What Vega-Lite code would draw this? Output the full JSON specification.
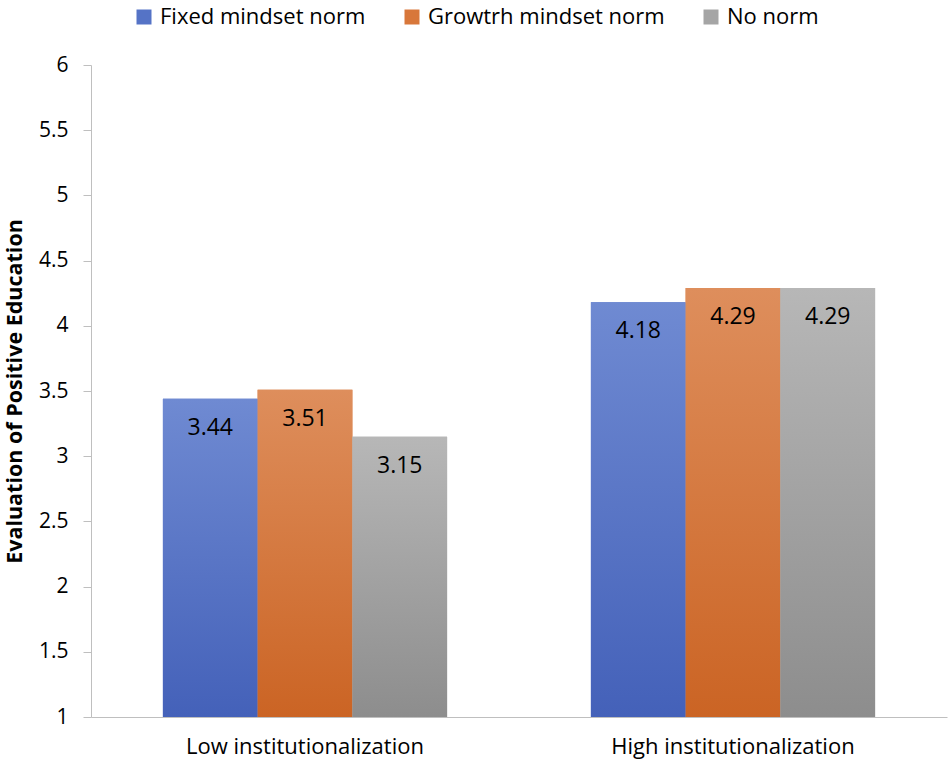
{
  "$schema": "https://vega.github.io/schema/vega-lite/v6.json",
  "autosize": "none",
  "width": 856,
  "height": 652,
  "padding": {"left": 91, "top": 65, "right": 3, "bottom": 49},
  "background": "white",
  "data": {
    "values": [
      {"group": "Low institutionalization", "norm": "Fixed mindset norm", "value": 3.44},
      {"group": "Low institutionalization", "norm": "Growtrh mindset norm", "value": 3.51},
      {"group": "Low institutionalization", "norm": "No norm", "value": 3.15},
      {"group": "High institutionalization", "norm": "Fixed mindset norm", "value": 4.18},
      {"group": "High institutionalization", "norm": "Growtrh mindset norm", "value": 4.29},
      {"group": "High institutionalization", "norm": "No norm", "value": 4.29}
    ]
  },
  "config": {
    "view": {"stroke": null},
    "font": "Open Sans",
    "axis": {"labelFont": "Open Sans", "titleFont": "Open Sans", "domainColor": "#bfbfbf", "tickColor": "#bfbfbf", "grid": false},
    "legend": {"labelFont": "Open Sans"}
  },
  "encoding": {
    "x": {
      "field": "group",
      "type": "nominal",
      "sort": ["Low institutionalization", "High institutionalization"],
      "scale": {"paddingInner": 0.336, "paddingOuter": 0.168},
      "axis": {"title": null, "labelAngle": 0, "ticks": false, "labelFontSize": 22, "labelColor": "#000", "labelPadding": 19, "labelLimit": 500}
    },
    "xOffset": {
      "field": "norm",
      "type": "nominal",
      "sort": ["Fixed mindset norm", "Growtrh mindset norm", "No norm"]
    },
    "y": {
      "field": "value",
      "type": "quantitative",
      "scale": {"domain": [1, 6], "nice": false, "zero": false},
      "axis": {
        "title": "Evaluation of Positive Education",
        "titleFontSize": 21.5,
        "titleFontWeight": "bold",
        "titleColor": "#000",
        "titlePadding": 12,
        "values": [1, 1.5, 2, 2.5, 3, 3.5, 4, 4.5, 5, 5.5, 6],
        "format": "~g",
        "labelFontSize": 21,
        "labelColor": "#000",
        "tickSize": 8,
        "labelPadding": 15
      }
    }
  },
  "layer": [
    {
      "mark": {"type": "bar"},
      "encoding": {
        "y2": {"datum": 1},
        "color": {
          "field": "norm",
          "type": "nominal",
          "sort": ["Fixed mindset norm", "Growtrh mindset norm", "No norm"],
          "scale": {"range": ["#5573c6", "#d8773a", "#a5a5a5"]},
          "legend": {
            "title": null,
            "orient": "none",
            "legendX": 42,
            "legendY": -59,
            "direction": "horizontal",
            "symbolType": "square",
            "symbolSize": 225,
            "symbolStrokeWidth": 0,
            "labelFontSize": 22,
            "labelColor": "#000",
            "labelOffset": 5,
            "columnPadding": 35,
            "labelLimit": 400
          }
        }
      }
    },
    {
      "transform": [{"filter": "datum.norm === 'Fixed mindset norm'"}],
      "mark": {
        "type": "bar",
        "color": {"gradient": "linear", "x1": 0, "y1": 0, "x2": 0, "y2": 1, "stops": [{"offset": 0, "color": "#6f8ad2"}, {"offset": 1, "color": "#4461b9"}]}
      },
      "encoding": {"y2": {"datum": 1}}
    },
    {
      "transform": [{"filter": "datum.norm === 'Growtrh mindset norm'"}],
      "mark": {
        "type": "bar",
        "color": {"gradient": "linear", "x1": 0, "y1": 0, "x2": 0, "y2": 1, "stops": [{"offset": 0, "color": "#de8e5c"}, {"offset": 1, "color": "#cb6424"}]}
      },
      "encoding": {"y2": {"datum": 1}}
    },
    {
      "transform": [{"filter": "datum.norm === 'No norm'"}],
      "mark": {
        "type": "bar",
        "color": {"gradient": "linear", "x1": 0, "y1": 0, "x2": 0, "y2": 1, "stops": [{"offset": 0, "color": "#b7b7b7"}, {"offset": 1, "color": "#8d8d8d"}]}
      },
      "encoding": {"y2": {"datum": 1}}
    },
    {
      "mark": {"type": "text", "baseline": "middle", "dy": 29, "fontSize": 23, "color": "#000"},
      "encoding": {
        "text": {"field": "value", "type": "quantitative", "format": ".2f"}
      }
    }
  ]
}
